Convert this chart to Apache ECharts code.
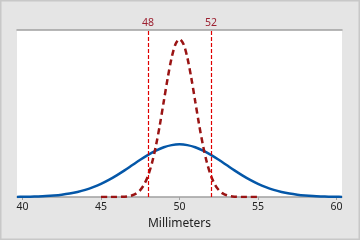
<!DOCTYPE html>
<html><head><meta charset="utf-8">
<script src="https://cdn.jsdelivr.net/npm/echarts@6/dist/echarts.min.js"></script>
<style>html,body{margin:0;padding:0;background:#e5e5e5}#c{width:360px;height:240px}</style>
</head><body><div id="c"></div>
<script>
// Blue curve (wide)
const blueX = [39.65,40,40.5,41,41.5,42,42.5,43,43.5,44,44.5,45,45.5,46,46.5,47,47.5,48,48.5,49,49.5,50,50.5,51,51.5,52,52.5,53,53.5,54,54.5,55,55.5,56,56.5,57,57.5,58,58.5,59,59.5,60,60.35];
const blueY = [0.0003,0.0005,0.0009,0.0015,0.0024,0.0038,0.0058,0.0087,0.0127,0.0180,0.0248,0.0332,0.0432,0.0547,0.0673,0.0807,0.0940,0.1065,0.1174,0.1258,0.1311,0.1330,0.1311,0.1258,0.1174,0.1065,0.0940,0.0807,0.0673,0.0547,0.0432,0.0332,0.0248,0.0180,0.0127,0.0087,0.0058,0.0038,0.0024,0.0015,0.0009,0.0005,0.0003];
// Red dashed curve (narrow)
const redX = [45,45.5,46,46.25,46.5,46.75,47,47.25,47.5,47.75,48,48.25,48.5,48.75,49,49.25,49.5,49.75,50,50.25,50.5,50.75,51,51.25,51.5,51.75,52,52.25,52.5,52.75,53,53.25,53.5,53.75,54,54.5,55];
const redY = [0.0000,0.0000,0.0001,0.0004,0.0009,0.0020,0.0044,0.0091,0.0175,0.0317,0.0540,0.0863,0.1295,0.1826,0.2420,0.3011,0.3521,0.3867,0.3989,0.3867,0.3521,0.3011,0.2420,0.1826,0.1295,0.0863,0.0540,0.0317,0.0175,0.0091,0.0044,0.0020,0.0009,0.0004,0.0001,0.0000,0.0000];
const tickValues = [40,45,50,55,60];
const refLines = [48,52];
const xTitle = 'Millimeters';

const font = 'Noto Sans';
const chart = echarts.init(document.getElementById('c'));
chart.setOption({
  backgroundColor: '#e5e5e5',
  animation: false,
  grid: {left: 17, right: 18, top: 30, bottom: 43, show: true, backgroundColor: '#ffffff', borderWidth: 0},
  xAxis: [{
    type: 'value', min: 39.65, max: 60.35,
    name: xTitle, nameLocation: 'middle', nameGap: 21,
    nameTextStyle: {fontFamily: font, fontSize: 12, color: '#222'},
    axisLine: {show: true, lineStyle: {color: '#a0a0a0', width: 1.5}},
    axisTick: {show: true, length: 3, customValues: tickValues, lineStyle: {color: '#a0a0a0'}},
    axisLabel: {customValues: tickValues, fontFamily: font, fontSize: 10.5, color: '#222', margin: 5},
    splitLine: {show: false}
  }, {
    type: 'value', position: 'top', min: 39.65, max: 60.35,
    axisLine: {show: true, lineStyle: {color: '#a0a0a0', width: 1.5}},
    axisTick: {show: false}, axisLabel: {show: false}, splitLine: {show: false}
  }],
  yAxis: {type: 'value', min: 0, max: 0.422, show: false, splitLine: {show: false}},
  graphic: [{type: 'rect', shape: {x: 0.75, y: 0.75, width: 358.5, height: 238.5}, style: {fill: 'none', stroke: '#c8c8c8', lineWidth: 1.5}, silent: true}],
  series: [{
    type: 'line', data: blueX.map((x, i) => [x, blueY[i]]), showSymbol: false, smooth: 0.3,
    lineStyle: {color: '#0457a8', width: 2.5}, z: 3
  }, {
    type: 'line', data: redX.map((x, i) => [x, redY[i]]), showSymbol: false, smooth: 0.3,
    lineStyle: {color: '#9a1414', width: 2.5, type: [6, 4]}, z: 4,
    markLine: {
      symbol: 'none', silent: true,
      lineStyle: {color: '#e00000', width: 1.2, type: [4, 2], opacity: 1},
      emphasis: {disabled: true},
      label: {position: 'end', formatter: '{c}', color: '#9c2030', fontFamily: font, fontSize: 10.5, distance: 1},
      data: refLines.map(v => ({xAxis: v, lineStyle: {color: '#e00000'}}))
    }
  }]
});
</script></body></html>
